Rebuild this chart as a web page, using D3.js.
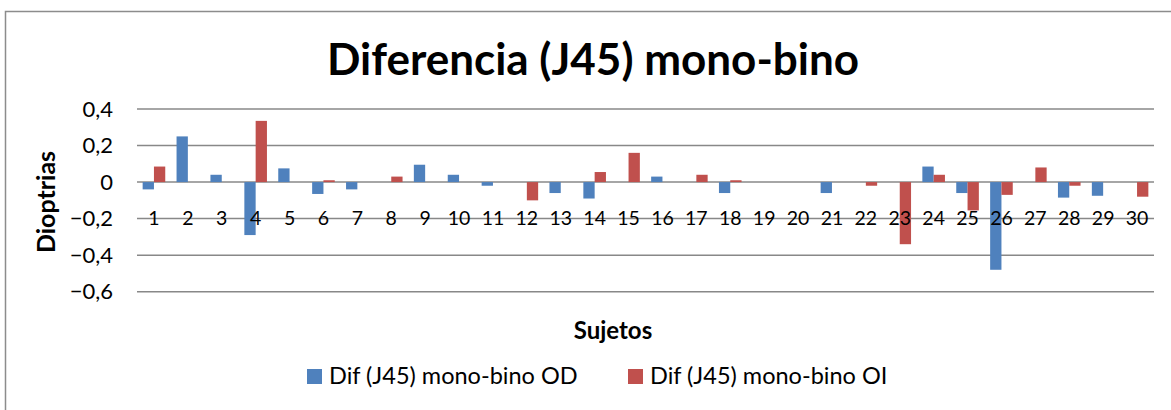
<!DOCTYPE html>
<html>
<head>
<meta charset="utf-8">
<script src="https://cdn.jsdelivr.net/npm/d3@7"></script>
<style>
  body { margin: 0; background: #fff; }
  text { font-family: Lato, "Open Sans", sans-serif; fill: #000; }
</style>
</head>
<body>
<div id="chart"></div>
<script>
// subjects 1..30
var subjects = d3.range(1, 31).map(String);
var seriesNames = ["Dif (J45) mono-bino OD", "Dif (J45) mono-bino OI"];
var seriesColors = ["#4F81BD", "#C0504D"];
// values (dioptrias)
var valuesOD = [-0.04, 0.25, 0.04, -0.29, 0.075, -0.065, -0.04, 0, 0.095, 0.04,
                -0.02, 0, -0.06, -0.09, 0, 0.03, 0, -0.06, 0, 0,
                -0.06, 0, 0, 0.085, -0.06, -0.48, 0, -0.085, -0.075, 0];
var valuesOI = [0.085, 0, 0, 0.335, 0, 0.01, 0, 0.03, 0, 0,
                0, -0.1, 0, 0.055, 0.16, 0, 0.04, 0.01, 0, 0,
                0, -0.02, -0.34, 0.04, -0.155, -0.07, 0.08, -0.02, 0, -0.08];
var yTicks = [0.4, 0.2, 0, -0.2, -0.4, -0.6];

var width = 1171;
var height = 410;
var svg = d3.select("#chart").append("svg")
  .attr("width", width)
  .attr("height", height);

// outer chart border (runs off the right / bottom edge)
svg.append("rect")
  .attr("x", 5.5).attr("y", 11.5)
  .attr("width", 1200).attr("height", 420)
  .attr("fill", "none")
  .attr("stroke", "#8c8c8c")
  .attr("stroke-width", 1.5);

var x = d3.scaleBand().domain(subjects).range([137, 1154]);
var xSeries = d3.scaleBand().domain([0, 1]).range([0, x.bandwidth()])
  .paddingInner(0).paddingOuter(0.5);
var y = d3.scaleLinear().domain([-0.6, 0.4]).range([291.7, 109]);

// gridlines
svg.append("g")
  .selectAll("line")
  .data(yTicks)
  .enter().append("line")
  .attr("x1", 137).attr("x2", 1154)
  .attr("y1", d => y(d)).attr("y2", d => y(d))
  .attr("stroke", "#888")
  .attr("stroke-width", 1.5);

// y tick labels
var fmt = d => d3.format(".1f")(d).replace(".", ",");
svg.append("g")
  .selectAll("text")
  .data(yTicks)
  .enter().append("text")
  .attr("x", 113)
  .attr("y", d => y(d))
  .attr("dy", "0.35em")
  .attr("text-anchor", "end")
  .style("font-size", "22px")
  .text(d => d == 0 ? "0" : fmt(d));

// bars
var allSeries = [valuesOD, valuesOI];
allSeries.forEach(function(vals, s) {
  svg.append("g")
    .selectAll("rect")
    .data(vals)
    .enter().append("rect")
    .attr("x", (d, i) => x(subjects[i]) + xSeries(s))
    .attr("width", xSeries.bandwidth())
    .attr("y", d => y(Math.max(0, d)))
    .attr("height", d => Math.abs(y(d) - y(0)))
    .attr("fill", seriesColors[s]);
});

// category labels, drawn over the bars on the -0,2 line like the original
svg.append("g")
  .selectAll("text")
  .data(subjects)
  .enter().append("text")
  .attr("x", d => x(d) + x.bandwidth() / 2)
  .attr("y", y(-0.2))
  .attr("dy", "0.35em")
  .attr("text-anchor", "middle")
  .style("font-size", "19.5px")
  .text(d => d);

// title
svg.append("text")
  .attr("x", 593).attr("y", 75)
  .attr("text-anchor", "middle")
  .style("font-size", "44px")
  .style("font-weight", "bold")
  .text("Diferencia (J45) mono-bino");

// axis titles
svg.append("text")
  .attr("transform", "translate(55,202) rotate(-90)")
  .attr("text-anchor", "middle")
  .style("font-size", "25px")
  .style("font-weight", "bold")
  .text("Dioptrias");

svg.append("text")
  .attr("x", 613).attr("y", 339)
  .attr("text-anchor", "middle")
  .style("font-size", "24px")
  .style("font-weight", "bold")
  .text("Sujetos");

// legend
var legendX = [307, 628];
var legend = svg.append("g")
  .selectAll("g")
  .data(seriesNames)
  .enter().append("g")
  .attr("transform", (d, i) => "translate(" + legendX[i] + ",0)");
legend.append("rect")
  .attr("x", 0).attr("y", 369)
  .attr("width", 15).attr("height", 15)
  .attr("fill", (d, i) => seriesColors[i]);
legend.append("text")
  .attr("x", 22).attr("y", 384)
  .style("font-size", "23.5px")
  .text(d => d);
</script>
</body>
</html>
